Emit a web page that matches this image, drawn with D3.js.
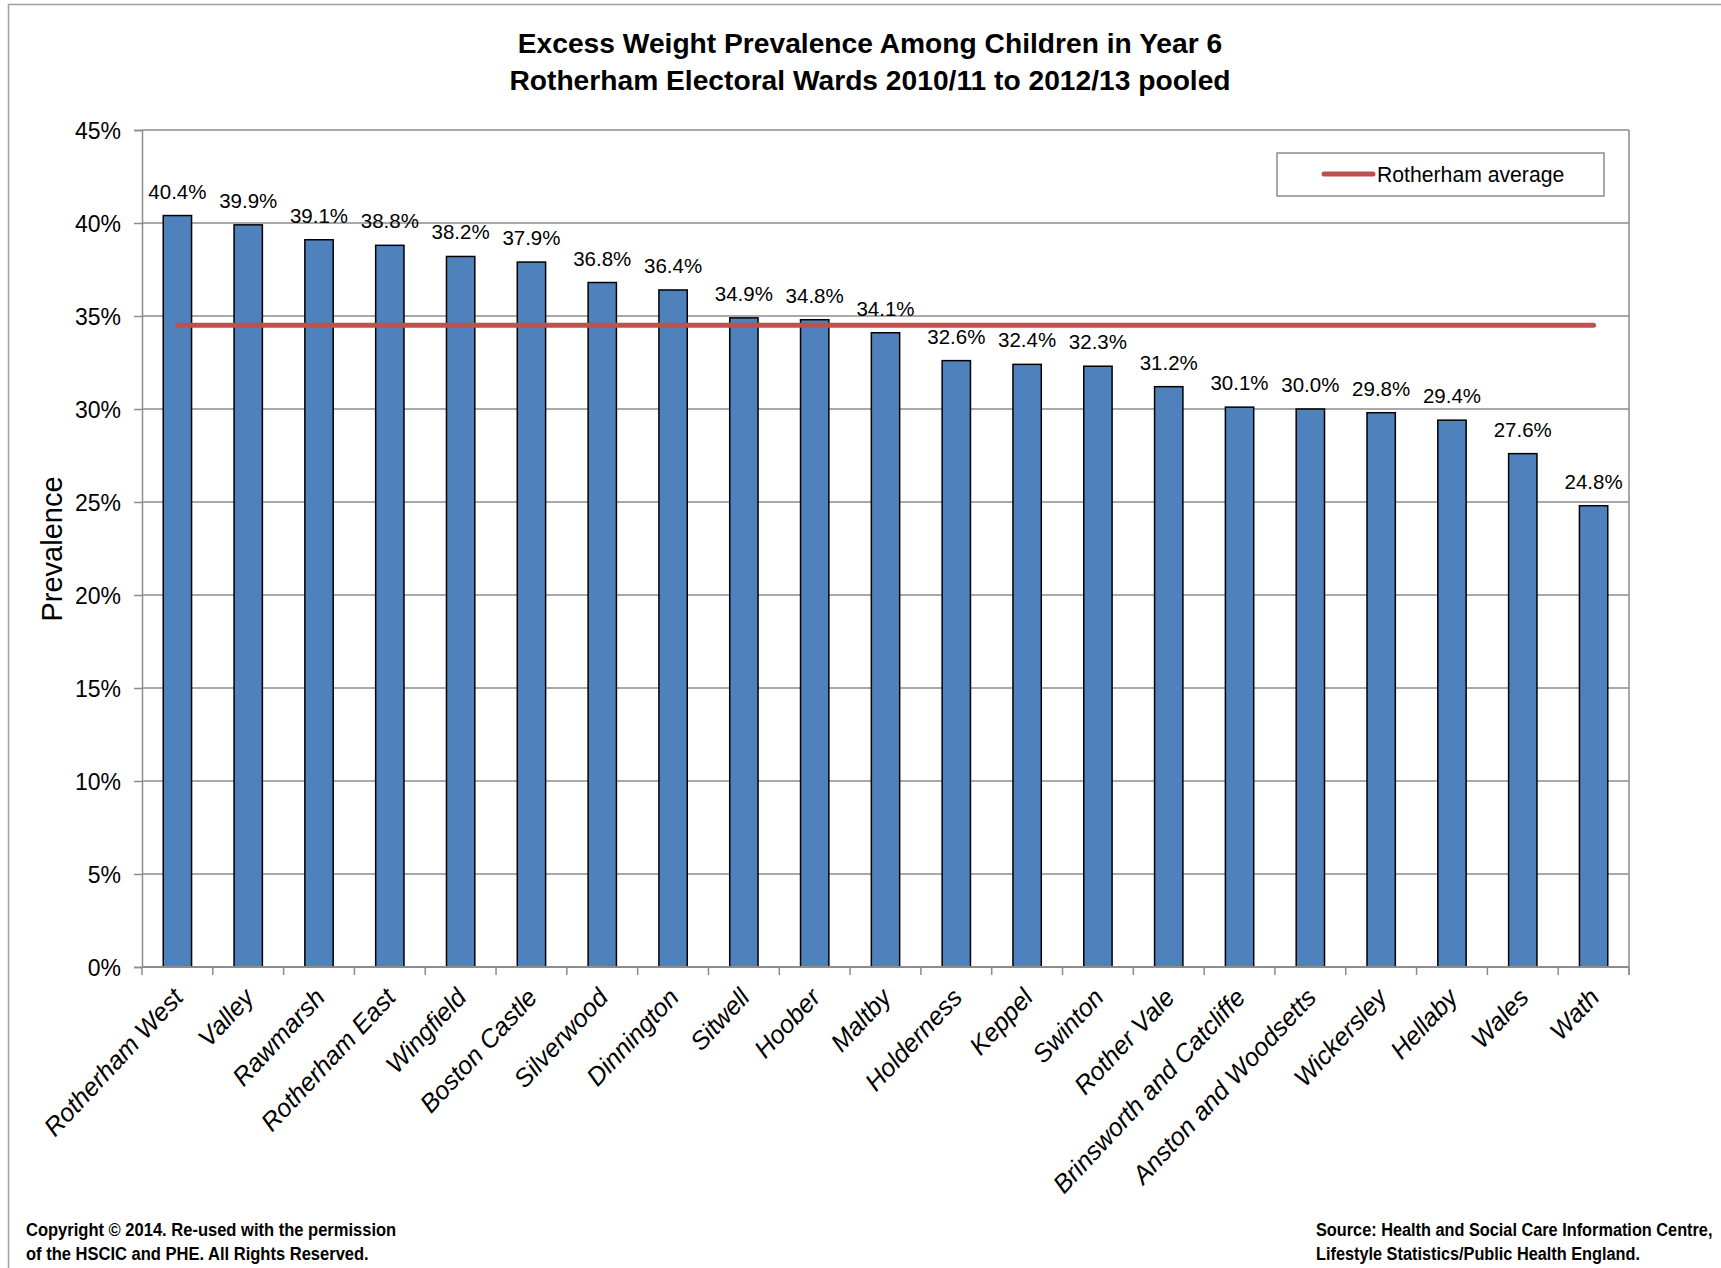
<!DOCTYPE html>
<html>
<head>
<meta charset="utf-8">
<script src="https://cdn.jsdelivr.net/npm/d3@7"></script>
<style>
body { margin: 0; background: #fff; }
text { font-family: "Liberation Sans", Arial, sans-serif; }
</style>
</head>
<body>
<script>
// wards, sorted high to low
var wards = ["Rotherham West", "Valley", "Rawmarsh", "Rotherham East", "Wingfield",
    "Boston Castle", "Silverwood", "Dinnington", "Sitwell", "Hoober", "Maltby",
    "Holderness", "Keppel", "Swinton", "Rother Vale", "Brinsworth and Catcliffe",
    "Anston and Woodsetts", "Wickersley", "Hellaby", "Wales", "Wath"];
var prevalence = [40.4, 39.9, 39.1, 38.8, 38.2, 37.9, 36.8, 36.4, 34.9, 34.8, 34.1,
    32.6, 32.4, 32.3, 31.2, 30.1, 30.0, 29.8, 29.4, 27.6, 24.8];
var rotherhamAverage = 34.5;
var yTicks = [0, 5, 10, 15, 20, 25, 30, 35, 40, 45];
var titleLines = ["Excess Weight Prevalence Among Children in Year 6",
    "Rotherham Electoral Wards 2010/11 to 2012/13 pooled"];

var W = 1721, H = 1268;
var m = [130, 92, 301, 142]; //top right bottom left
var w = W - m[1] - m[3], h = H - m[0] - m[2];

var data = wards.map(function (d, i) { return { name: d, value: prevalence[i] }; });

// inner 0.6 / outer 0.3 keeps the bands lined up with the tick marks
var x = d3.scaleBand()
    .domain(wards)
    .range([0, w])
    .paddingInner(0.6)
    .paddingOuter(0.3);
var y = d3.scaleLinear()
    .domain([0, 45])
    .range([h, 0]);

var svg = d3.select("body").append("svg")
    .attr("width", W)
    .attr("height", H);

// outer frame (only left/top show in the picture)
svg.append("rect")
    .attr("x", 8.5).attr("y", 4.5)
    .attr("width", W).attr("height", H)
    .attr("fill", "none")
    .attr("stroke", "#a0a0a0")
    .attr("stroke-width", 1.5);

// title
svg.append("g").selectAll("text")
    .data(titleLines)
    .enter().append("text")
    .attr("x", 870)
    .attr("y", function (d, i) { return 53 + i * 37; })
    .attr("text-anchor", "middle")
    .attr("font-weight", "bold")
    .attr("font-size", 28.2)
    .attr("fill", "#000")
    .text(function (d) { return d; });

var g = svg.append("g")
    .attr("transform", "translate(" + m[3] + "," + m[0] + ")");

// gridlines
g.append("g").selectAll("line")
    .data(yTicks)
    .enter().append("line")
    .attr("x1", 0).attr("x2", w)
    .attr("y1", function (d) { return y(d); })
    .attr("y2", function (d) { return y(d); })
    .attr("stroke", "#8c8c8c")
    .attr("stroke-width", 1.5);

// right border
g.append("line")
    .attr("x1", w).attr("x2", w)
    .attr("y1", 0).attr("y2", h + 8)
    .attr("stroke", "#8c8c8c")
    .attr("stroke-width", 1.5);

// y axis
var yAxis = g.append("g")
    .call(d3.axisLeft(y).tickValues(yTicks).tickSize(8).tickPadding(13)
        .tickFormat(function (d) { return d + "%"; }));
yAxis.select(".domain").attr("stroke", "#8c8c8c").attr("stroke-width", 1.5);
yAxis.selectAll(".tick line").attr("stroke", "#8c8c8c").attr("stroke-width", 1.5);
yAxis.selectAll(".tick text")
    .attr("font-family", null)
    .attr("font-size", 23)
    .attr("fill", "#000")
    .attr("dy", "0.36em");

// x axis ticks between categories
g.append("g").selectAll("line")
    .data(d3.range(wards.length + 1))
    .enter().append("line")
    .attr("x1", function (i) { return i * x.step(); })
    .attr("x2", function (i) { return i * x.step(); })
    .attr("y1", h).attr("y2", h + 8)
    .attr("stroke", "#8c8c8c")
    .attr("stroke-width", 1.5);

// bars
g.append("g").selectAll("rect")
    .data(data)
    .enter().append("rect")
    .attr("x", function (d) { return x(d.name); })
    .attr("y", function (d) { return y(d.value); })
    .attr("width", x.bandwidth())
    .attr("height", function (d) { return h - y(d.value); })
    .attr("fill", "#4f81bd")
    .attr("stroke", "#000")
    .attr("stroke-width", 1.5);

g.append("line")
    .attr("x1", 0).attr("x2", w)
    .attr("y1", h).attr("y2", h)
    .attr("stroke", "#8c8c8c")
    .attr("stroke-width", 2);

// bar value labels
g.append("g").selectAll("text")
    .data(data)
    .enter().append("text")
    .attr("x", function (d) { return x(d.name) + x.bandwidth() / 2; })
    .attr("y", function (d) { return y(d.value) - 17; })
    .attr("text-anchor", "middle")
    .attr("font-size", 20.5)
    .attr("fill", "#000")
    .text(function (d) { return d.value.toFixed(1) + "%"; });

// average line
g.append("line")
    .attr("x1", x(wards[0]) + x.bandwidth() / 2)
    .attr("x2", x(wards[wards.length - 1]) + x.bandwidth() / 2)
    .attr("y1", y(rotherhamAverage))
    .attr("y2", y(rotherhamAverage))
    .attr("stroke", "#c0504d")
    .attr("stroke-width", 5)
    .attr("stroke-linecap", "round");

// category labels
g.append("g").selectAll("text")
    .data(wards)
    .enter().append("text")
    .attr("transform", function (d) {
        return "translate(" + (x(d) + x.bandwidth() / 2 - 2) + "," + (h + 23) + ") rotate(-47)";
    })
    .attr("text-anchor", "end")
    .attr("dy", "0.5em")
    .attr("font-size", 25.4)
    .attr("font-style", "italic")
    .attr("fill", "#000")
    .text(function (d) { return d; });

// y title
svg.append("text")
    .attr("transform", "translate(62,549) rotate(-90)")
    .attr("text-anchor", "middle")
    .attr("font-size", 29)
    .attr("fill", "#000")
    .text("Prevalence");

// legend
var leg = svg.append("g").attr("transform", "translate(1277,153)");
leg.append("rect")
    .attr("width", 327).attr("height", 43)
    .attr("fill", "#fff")
    .attr("stroke", "#8c8c8c")
    .attr("stroke-width", 1.5);
leg.append("line")
    .attr("x1", 47).attr("x2", 96)
    .attr("y1", 21).attr("y2", 21)
    .attr("stroke", "#c0504d")
    .attr("stroke-width", 5)
    .attr("stroke-linecap", "round");
leg.append("text")
    .attr("x", 100).attr("y", 29)
    .attr("font-size", 21.2)
    .attr("fill", "#000")
    .text("Rotherham average");

// footer notes (squeezed a bit to look like the original's condensed font)
var notesLeft = ["Copyright \u00a9 2014. Re-used with the permission", "of the HSCIC and PHE. All Rights Reserved."];
var notesRight = ["Source: Health and Social Care Information Centre,", "Lifestyle Statistics/Public Health England."];
function notes(list, x0, k) {
    svg.append("g").selectAll("text")
        .data(list)
        .enter().append("text")
        .attr("transform", function (d, i) { return "translate(" + x0 + "," + (1236 + i * 24) + ") scale(" + k + ",1)"; })
        .attr("font-weight", "bold")
        .attr("font-size", 19)
        .attr("fill", "#000")
        .text(function (d) { return d; });
}
notes(notesLeft, 26, 0.87);
notes(notesRight, 1316, 0.858);
</script>
</body>
</html>
